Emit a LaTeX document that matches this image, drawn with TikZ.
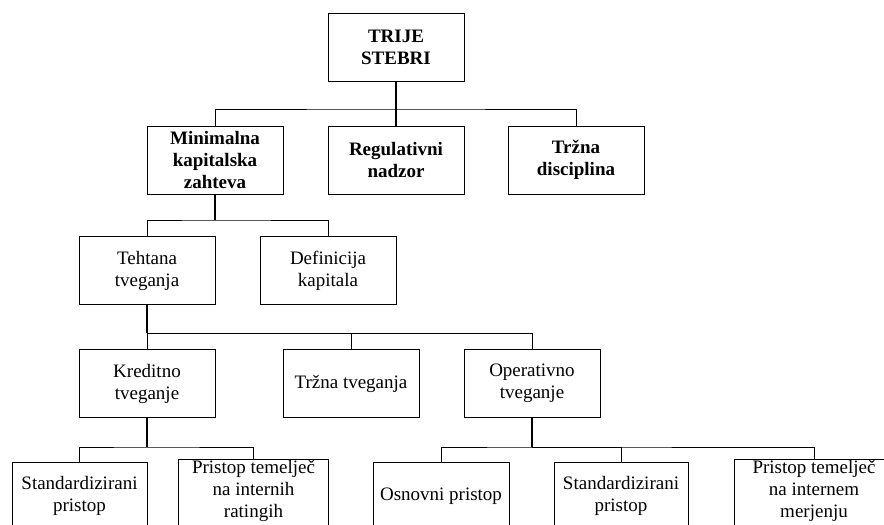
\documentclass[tikz,border=0pt]{standalone}
\usepackage{fontspec}
\setmainfont{Liberation Serif}
\begin{document}
\begin{tikzpicture}[x=1pt,y=-1pt,
  box/.style={draw=black, line width=0.9pt, minimum width=136pt, minimum height=68pt, inner sep=0pt, align=center, font=\fontsize{19}{22}\selectfont},
  bbox/.style={box, font=\fontsize{19}{22}\selectfont\bfseries},
  openbox/.style={box, draw=none, minimum height=58pt},
  boxline/.style={line width=0.9pt},
  stem/.style={line width=1.6pt},
  link/.style={line width=0.9pt}]
\useasboundingbox (0,0) rectangle (884,525);
\clip (0,0) rectangle (884,525);
% level 1
\node[bbox] (root) at (396,47) {TRIJE\\STEBRI};
% level 2
\node[bbox] (min) at (215,160) {Minimalna\\kapitalska\\zahteva};
\node[bbox] (reg) at (396,160) {Regulativni\\nadzor};
\node[bbox] (trd) at (576,160) {Tržna\\disciplina};
% level 3
\node[box] (teh) at (147,270.5) {Tehtana\\tveganja};
\node[box] (def) at (328,270.5) {Definicija\\kapitala};
% level 4
\node[box] (kre) at (147,383.5) {Kreditno\\tveganje};
\node[box] (trt) at (351,383.5) {Tržna tveganja};
\node[box] (ope) at (532,383.5) {Operativno\\tveganje};
% level 5
\node[box, minimum width=135pt] (std1) at (79.5,496) {Standardizirani\\pristop};
\node[openbox, minimum width=149pt] (pr1) at (253.5,491) {Pristop temelječ\\na internih\\ratingih};
\draw[boxline] ([yshift=-40pt]pr1.south west) -- (pr1.north west) -- (pr1.north east) -- ([yshift=-40pt]pr1.south east);
\node[box] (osn) at (441,496) {Osnovni pristop};
\node[box, minimum width=134pt] (std2) at (621,496) {Standardizirani\\pristop};
\node[openbox, minimum width=158pt] (pr2) at (814,491) {Pristop temelječ\\na internem\\merjenju};
\draw[boxline] ([yshift=-40pt]pr2.south west) -- (pr2.north west) -- (pr2.north east) -- ([yshift=-40pt]pr2.south east);
% junctions
\coordinate (j1) at (396,109);
\coordinate (j2) at (215,220);
\coordinate (j3) at (147,333);
\coordinate (j4) at (147,447);
\coordinate (j5) at (532,447);
% connectors
\draw[stem] (root.south) -- (reg.north);
\draw[link] (min.north) |- (j1) -| (trd.north);
\draw[stem] (min.south) -- (j2);
\draw[link] (teh.north) |- (j2) -| (def.north);
\draw[stem] (teh.south) -- (j3);
\draw[link] (j3) -- (kre.north);
\draw[link] (j3) -| (trt.north);
\draw[link] (j3) -| (ope.north);
\draw[stem] (kre.south) -- (j4);
\draw[link] (std1.north) |- (j4) -| (pr1.north);
\draw[stem] (ope.south) -- (j5);
\draw[link] (osn.north) |- (j5) -| (pr2.north);
\draw[link] (j5) -| (std2.north);
\end{tikzpicture}
\end{document}
